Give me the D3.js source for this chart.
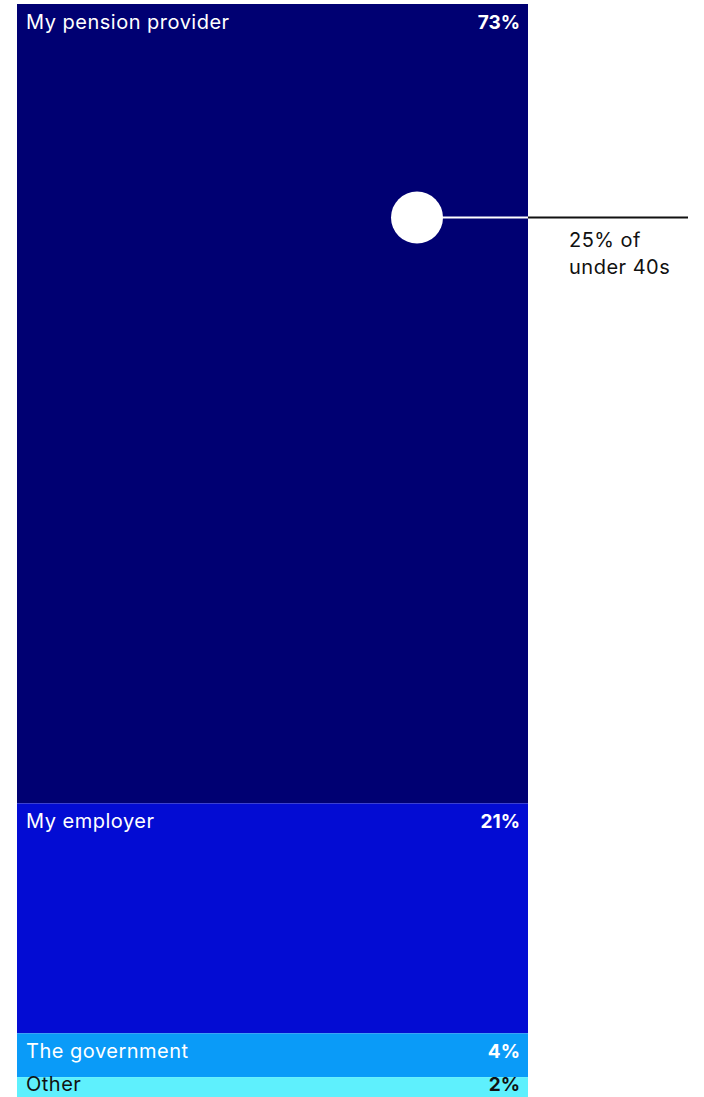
<!DOCTYPE html>
<html>
<head>
<meta charset="utf-8">
<script src="https://cdn.jsdelivr.net/npm/d3@7"></script>
<style>
  html, body { margin: 0; padding: 0; background: #fff; }
  svg { display: block; }
  text { font-family: Inter, "Noto Sans", sans-serif; letter-spacing: 0.5px; }
  text.val { letter-spacing: 0; }
</style>
</head>
<body>
<svg id="chart" width="704" height="1097"></svg>
<script>
const categories = ["My pension provider", "My employer", "The government", "Other"];
const values = [73, 21, 4, 2];
const valueLabels = ["73%", "21%", "4%", "2%"];
const fills = ["#000072", "#030cd3", "#0a9bf8", "#5ef0fd"];
const textColors = ["#ffffff", "#ffffff", "#ffffff", "#111111"];
const annotationValue = [19.5];
const annotationText = ["25% of", "under 40s"];

const W = 704, H = 1097;
const svg = d3.select("#chart");
const x = d3.scaleLinear().domain([0, 1]).range([17, 528]);
const y = d3.scaleLinear().domain([0, 100]).range([4, 1099]);

let cum = 0;
const segs = values.map((v, i) => {
  const s = { cat: categories[i], v, label: valueLabels[i], start: cum, end: cum + v, fill: fills[i], tc: textColors[i] };
  cum += v;
  return s;
});

const labelY = d => Math.min(y(d.start) + 25, H - 6);

const g = svg.append("g");
g.selectAll("rect").data(segs).join("rect")
  .attr("x", x(0)).attr("width", x(1) - x(0))
  .attr("y", d => y(d.start)).attr("height", d => y(d.end) - y(d.start))
  .attr("fill", d => d.fill);

g.selectAll("text.cat").data(segs).join("text").attr("class", "cat")
  .attr("x", x(0) + 9).attr("y", labelY)
  .attr("fill", d => d.tc).attr("font-size", 20)
  .text(d => d.cat);

g.selectAll("text.val").data(segs).join("text").attr("class", "val")
  .attr("x", x(1) - 8).attr("y", labelY)
  .attr("text-anchor", "end").attr("font-weight", 700)
  .attr("fill", d => d.tc).attr("font-size", 19)
  .text(d => d.label);

// annotation
const ay = y(annotationValue[0]);
const cx = x(0.7828);
g.append("line").attr("x1", cx).attr("x2", x(1)).attr("y1", ay).attr("y2", ay)
  .attr("stroke", "#fff").attr("stroke-width", 2);
g.append("line").attr("x1", x(1)).attr("x2", 688).attr("y1", ay).attr("y2", ay)
  .attr("stroke", "#111").attr("stroke-width", 2);
g.append("circle").attr("cx", cx).attr("cy", ay).attr("r", 26).attr("fill", "#fff");
g.append("text").attr("y", ay + 29).attr("font-size", 20).attr("fill", "#111")
  .selectAll("tspan").data(annotationText).join("tspan")
  .attr("x", 569).attr("dy", (d, i) => i === 0 ? 0 : 27).text(d => d);
</script>
</body>
</html>
